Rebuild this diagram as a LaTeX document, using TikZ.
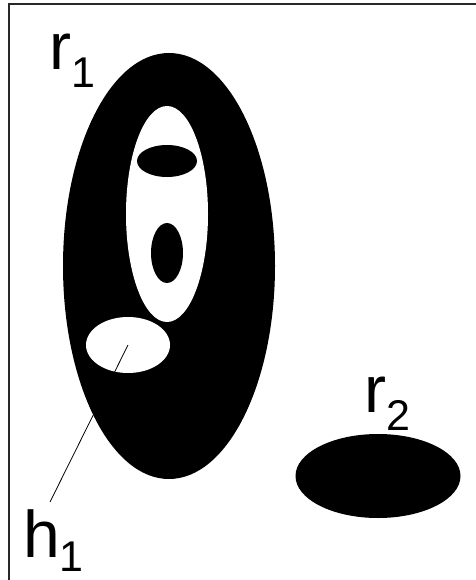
\documentclass[tikz,border=0pt]{standalone}
\usepackage{fontspec}
\setmainfont{Liberation Sans}
\usetikzlibrary{shapes.geometric}
\definecolor{figline}{RGB}{0,0,0}
\definecolor{framec}{RGB}{40,40,40}
\newcommand{\lbl}[3][18pt]{\fontsize{66}{66}\selectfont #2\raisebox{-#1}{\fontsize{43}{43}\selectfont #3}}
\tikzset{
  blob/.style  ={ellipse, fill=figline, inner sep=0pt},
  hole/.style  ={ellipse, fill=white, inner sep=0pt},
  lab/.style   ={inner sep=0pt, anchor=base west},
  lead/.style  ={draw=figline, line width=0.8pt},
  frm/.style   ={draw=framec, line width=1.2pt},
}
\begin{document}
\begin{tikzpicture}[x=1pt,y=-1pt]
  \useasboundingbox (0,0) rectangle (475,580);
  % open frame
  \draw[frm] (9,582) -- (9,4) -- (477,4);
  % region r1 with its holes
  \node[blob,minimum width=212pt,minimum height=426pt] (rone) at (169,266) {};
  \node[hole,minimum width=82pt,minimum height=216pt] (hinner) at (167,214) {};
  \node[blob,minimum width=60pt,minimum height=32pt] (islA) at (167,161) {};
  \node[blob,minimum width=32pt,minimum height=60pt] (islB) at (167,253) {};
  \node[hole,minimum width=84pt,minimum height=56pt] (hone) at (128,345) {};
  % region r2
  \node[blob,minimum width=165pt,minimum height=84pt] (rtwo) at (378,476) {};
  % labels
  \node[lab] (rlabA) at (49,70) {\lbl{r}{1}};
  \node[lab] (rlabB) at (364,412) {\lbl{r}{2}};
  \node[lab] (hlab) at (23,557) {\lbl[14pt]{h}{1}};
  \coordinate (hfoot) at (50,502);
  \draw[lead] (hfoot) -- (hone.center);
\end{tikzpicture}
\end{document}
